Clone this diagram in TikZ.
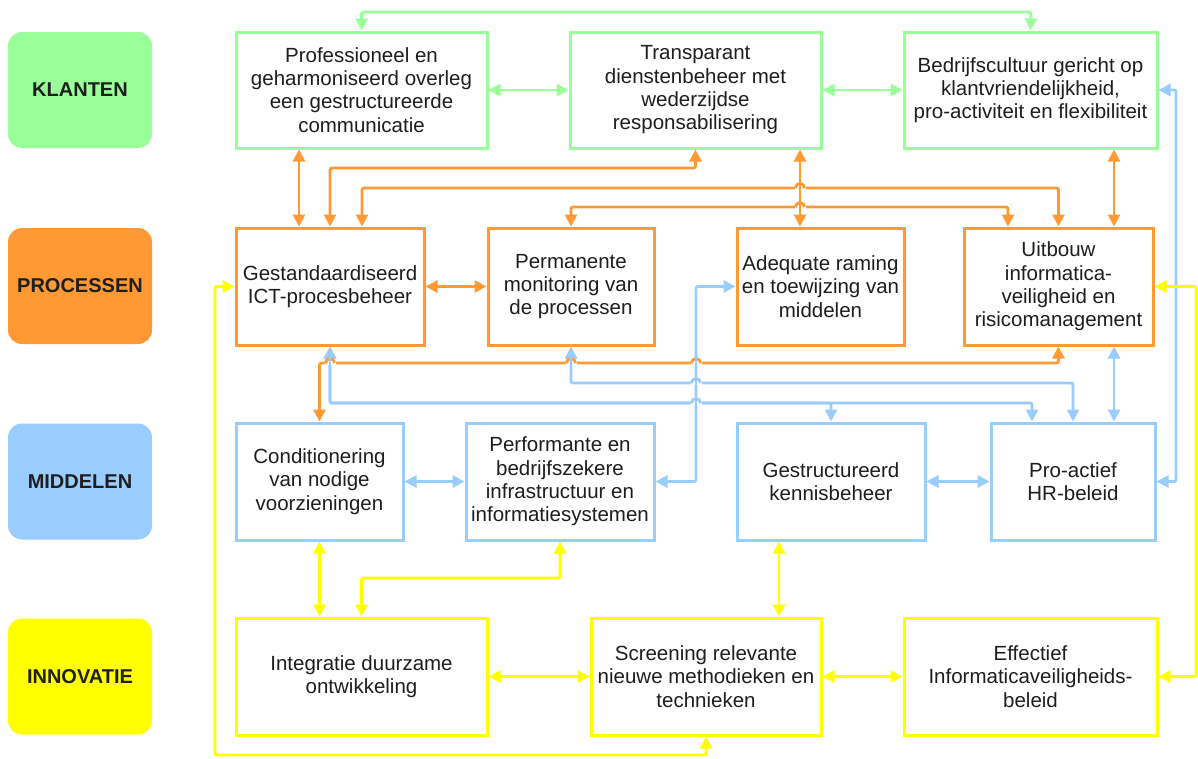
\documentclass[tikz,border=0pt]{standalone}
\usepackage{fontspec}
\setmainfont{Liberation Sans}
\usetikzlibrary{arrows.meta}
\definecolor{kgreen}{RGB}{153,255,153}
\definecolor{porange}{RGB}{255,153,51}
\definecolor{mblue}{RGB}{153,204,255}
\definecolor{iyellow}{RGB}{255,255,0}
\definecolor{txt}{RGB}{30,30,30}

% line hop: horizontal line (colour #3) jumps over a vertical one (colour #4) at (#1,#2)
\newcommand{\linehop}[4]{%
  \fill[white] (#1-5.5,#2-2.2) rectangle (#1+5.5,#2+2.2);
  \draw[#3, line width=2.8pt] (#1-4.5,#2) arc[start angle=180, end angle=360, radius=4.5];
  \draw[#4, line width=2.8pt] (#1,#2-7) -- (#1,#2+7);}

\begin{document}
\begin{tikzpicture}[x=1pt,y=-1pt,
  box/.style={draw=#1, line width=3pt, fill=white, align=center, text=txt,
    font=\fontsize{20.5}{23.3}\selectfont, inner sep=0pt},
  cat/.style={fill=#1, rounded corners=14pt, text=txt,
    font=\bfseries\fontsize{20}{23}\selectfont,
    minimum width=144pt, minimum height=116pt, inner sep=0pt},
  conn/.style={draw=#1, line width=2.8pt, rounded corners=2pt,
    {Triangle[length=12pt,width=12pt]}-{Triangle[length=12pt,width=12pt]}}]

\fill[white] (0,0) rectangle (1198,758);
\useasboundingbox (0,0) rectangle (1198,758);

% category labels
\node[cat=kgreen]  (kl) at (80,90)    {KLANTEN};
\node[cat=porange] (pr) at (80,286)   {PROCESSEN};
\node[cat=mblue]   (mi) at (80,481.5) {MIDDELEN};
\node[cat=iyellow] (in) at (80,676.5) {INNOVATIE};

% klanten
\node[box=kgreen, minimum width=251pt, minimum height=116pt] (P1) at (361.5,90)
  {Professioneel en\\geharmoniseerd overleg\\een gestructureerde\\communicatie};
\node[box=kgreen, minimum width=251pt, minimum height=116pt] (P2) at (695.5,90)
  {Transparant\\dienstenbeheer met\\wederzijdse\\responsabilisering};
\node[box=kgreen, minimum width=253pt, minimum height=116pt] (P3) at (1030.5,90)
  {Bedrijfscultuur gericht op\\klantvriendelijkheid,\\pro-activiteit en flexibiliteit};

% processen
\node[box=porange, minimum width=188pt, minimum height=117pt] (G) at (330,286.5)
  {Gestandaardiseerd\\ICT-procesbeheer};
\node[box=porange, minimum width=166pt, minimum height=117pt] (Perm) at (571,286.5)
  {Permanente\\monitoring van\\de processen};
\node[box=porange, minimum width=167pt, minimum height=117pt] (Adeq) at (820.5,286.5)
  {Adequate raming\\en toewijzing van\\middelen};
\node[box=porange, minimum width=189pt, minimum height=117pt] (Uit) at (1058.5,286.5)
  {Uitbouw\\informatica-\\veiligheid en\\risicomanagement};

% middelen
\node[box=mblue, minimum width=167pt, minimum height=117pt] (Cond) at (319.5,481.5)
  {Conditionering\\van nodige\\voorzieningen};
\node[box=mblue, minimum width=188pt, minimum height=117pt] (Perf) at (560,481.5)
  {Performante en\\bedrijfszekere\\infrastructuur en\\informatiesystemen};
\node[box=mblue, minimum width=188pt, minimum height=117pt] (Gest) at (831,481.5)
  {Gestructureerd\\kennisbeheer};
\node[box=mblue, minimum width=164pt, minimum height=117pt] (Pro) at (1073,481.5)
  {Pro-actief\\HR-beleid};

% innovatie
\node[box=iyellow, minimum width=251pt, minimum height=117pt] (Integ) at (361.5,676.5)
  {Integratie duurzame\\ontwikkeling};
\node[box=iyellow, minimum width=230pt, minimum height=117pt] (Scr) at (706,676.5)
  {Screening relevante\\nieuwe methodieken en\\technieken};
\node[box=iyellow, minimum width=253pt, minimum height=117pt] (Eff) at (1030.5,676.5)
  {Effectief\\Informaticaveiligheids-\\beleid};

% green connectors
\draw[conn=kgreen] (P1.north) -- (P1.north |- 0,12) -- (1031,12) -- (P3.north);
\draw[conn=kgreen] (P1.east) -- (P2.west);
\draw[conn=kgreen] (P2.east) -- (P3.west);

% orange connectors
\draw[conn=porange] (P1.south -| 299,0) -- (G.north -| 299,0);
\draw[conn=porange] (P2.south) -- (P2.south |- 0,168) -- (G.north |- 0,168) -- (G.north);
\draw[conn=porange] (G.north -| 362,0) -- (362,188) -- (Uit.north |- 0,188) -- (Uit.north);
\draw[conn=porange] (Perm.north) -- (Perm.north |- 0,207) -- (1008,207) -- (Uit.north -| 1008,0);
\draw[conn=porange] (P2.south -| 800,0) -- (Adeq.north -| 800,0);
\draw[conn=porange] (P3.south -| 1114,0) -- (Uit.north -| 1114,0);
\draw[conn=porange] (G.east) -- (Perm.west);
\draw[conn=porange] (Cond.north) -- (Cond.north |- 0,363) -- (Uit.south |- 0,363) -- (Uit.south);

% blue connectors
\draw[conn=mblue] (G.south) -- (G.south |- 0,403) -- (1032,403) -- (Pro.north -| 1032,0);
\draw[conn=mblue] (G.south) -- (G.south |- 0,403) -- (Gest.north |- 0,403) -- (Gest.north);
\draw[conn=mblue] (Perm.south) -- (Perm.south |- 0,383) -- (Pro.north |- 0,383) -- (Pro.north);
\draw[conn=mblue] (Adeq.west) -- (Adeq.west -| 696,0) -- (Perf.east -| 696,0) -- (Perf.east);
\draw[conn=mblue] (Uit.south -| 1114,0) -- (Pro.north -| 1114,0);
\draw[conn=mblue] (Cond.east) -- (Perf.west);
\draw[conn=mblue] (Gest.east) -- (Pro.west);
\draw[conn=mblue] (P3.east) -- (P3.east -| 1176,0) -- (Pro.east -| 1176,0) -- (Pro.east);

% yellow connectors
\draw[conn=iyellow] (Cond.south) -- (Integ.north -| Cond.south);
\draw[conn=iyellow] (Perf.south) -- (Perf.south |- 0,578) -- (Integ.north |- 0,578) -- (Integ.north);
\draw[conn=iyellow] (Gest.south -| 779,0) -- (Scr.north -| 779,0);
\draw[conn=iyellow] (Integ.east) -- (Scr.west);
\draw[conn=iyellow] (Scr.east) -- (Eff.west);
\draw[conn=iyellow] (Scr.south) -- (Scr.south |- 0,755) -- (215,755) -- (G.west -| 215,0) -- (G.west);
\draw[conn=iyellow] (Uit.east) -- (Uit.east -| 1196,0) -- (Eff.east -| 1196,0) -- (Eff.east);

% crossings
\linehop{800}{188}{porange}{porange}
\linehop{800}{207}{porange}{porange}
\linehop{330}{363}{porange}{mblue}
\linehop{571}{363}{porange}{mblue}
\linehop{696}{363}{porange}{mblue}
\linehop{696}{383}{mblue}{mblue}
\linehop{696}{403}{mblue}{mblue}
\end{tikzpicture}
\end{document}
